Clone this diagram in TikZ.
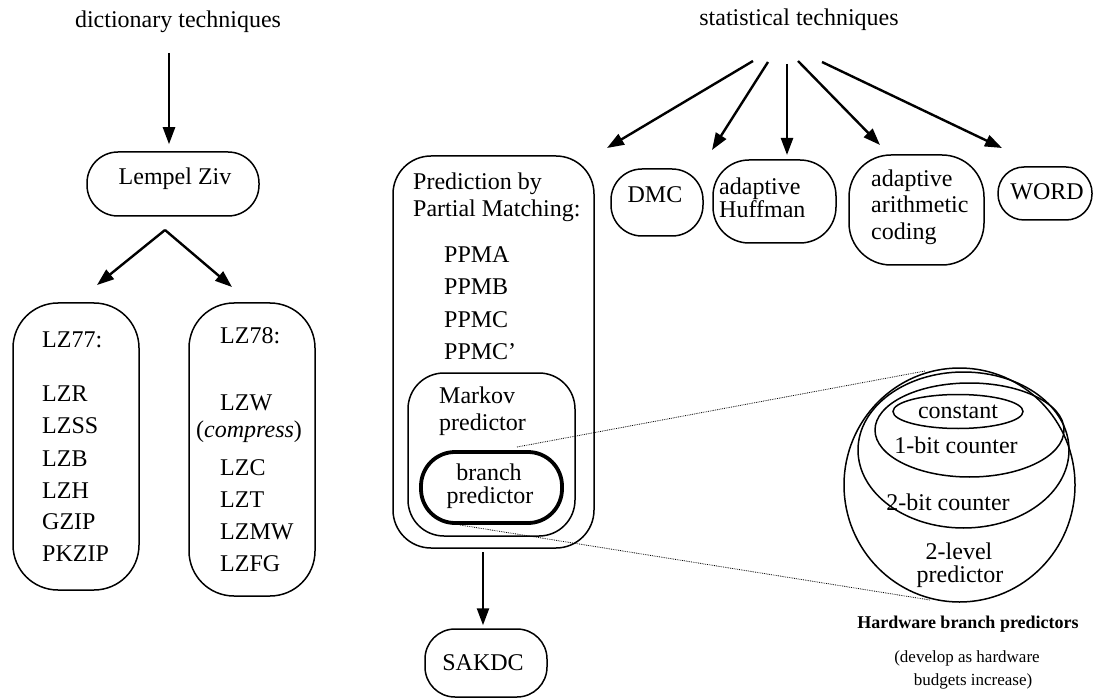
\documentclass[tikz,border=0pt]{standalone}
\usepackage{fontspec}
\setmainfont{Liberation Serif}
\usetikzlibrary{arrows.meta,shapes.geometric}
\begin{document}
\begin{tikzpicture}[x=1pt,y=-1pt,
  box/.style={draw,line width=1.5pt,rounded corners=#1,inner sep=0pt},
  box/.default=30pt,
  oval/.style={draw,line width=1.5pt,ellipse,inner sep=0pt},
  txt/.style={inner sep=0pt,font=\fontsize{24}{28}\selectfont},
  lt/.style={txt,anchor=base west},
  ct/.style={txt,anchor=base},
  small/.style={inner sep=0pt,anchor=base,font=\fontsize{17}{20}\selectfont},
  arr/.style={line width=2.4pt,-{Triangle[length=17pt,width=12pt]}},
  zoomline/.style={line width=0.8pt,densely dotted}]
\useasboundingbox (0,0) rectangle (1094,700);

% ---------- headings ----------
\node[txt] (dict) at (178,22) {dictionary techniques};
\node[txt] (stat) at (799,20) {statistical techniques};

% ---------- dictionary branch ----------
\node[box=31pt,minimum width=172pt,minimum height=64pt] (lz) at (173,184) {};
\node[ct] (lzt) at (175,185) {Lempel Ziv};

\node[box=45pt,minimum width=126pt,minimum height=287pt] (lz77) at (76,446.5) {};
\node[box=45pt,minimum width=126pt,minimum height=293pt] (lz78) at (252,449.5) {};

\node[lt] (a0) at (42,347) {LZ77:};
\node[lt] (a1) at (42,401) {LZR};
\node[lt] (a2) at (42,433) {LZSS};
\node[lt] (a3) at (42,466) {LZB};
\node[lt] (a4) at (42,498) {LZH};
\node[lt] (a5) at (42,529) {GZIP};
\node[lt] (a6) at (42,561) {PKZIP};

\node[lt] (b0) at (220,343) {LZ78:};
\node[lt] (b1) at (220,410) {LZW};
\node[lt] (b2) at (196,437) {(\textit{compress})};
\node[lt] (b3) at (220,475) {LZC};
\node[lt] (b4) at (220,507) {LZT};
\node[lt] (b5) at (220,539) {LZMW};
\node[lt] (b6) at (220,571) {LZFG};

\coordinate (d0) at (169,53);
\draw[arr] (d0) -- (d0 |- lz.north) [shorten >=7pt];
\coordinate (ap) at (165,230);
\coordinate (t77) at (97,285);
\coordinate (t78) at (232,287);
\draw[arr] (ap) -- (t77);
\draw[arr] (ap) -- (t78);

% ---------- statistical branch ----------
\node[box=38pt,minimum width=201pt,minimum height=392pt] (ppm) at (493.5,352) {};
\node[lt] (p0) at (413,190) {Prediction by};
\node[lt] (p1) at (413,217) {Partial Matching:};
\node[lt] (p2) at (444,263) {PPMA};
\node[lt] (p3) at (444,295) {PPMB};
\node[lt] (p4) at (444,327) {PPMC};
\node[lt] (p5) at (444,359) {PPMC'};

\node[box=36pt,minimum width=167pt,minimum height=163pt] (markov) at (491.5,454.5) {};
\node[lt] (m0) at (439,403) {Markov};
\node[lt] (m1) at (439,430) {predictor};

\node[draw,line width=3.8pt,rounded corners=34pt,inner sep=0pt,
      minimum width=141pt,minimum height=71pt] (branch) at (491.5,487.5) {};
\node[ct] (br0) at (489,480) {branch};
\node[ct] (br1) at (490,503) {predictor};

\node[box=30pt,minimum width=122pt,minimum height=68pt] (sakdc) at (486,663) {};
\node[ct] (sak) at (483,670) {SAKDC};
\coordinate (s0) at (483,552);
\draw[arr] (s0) -- (s0 |- sakdc.north) [shorten >=3pt];

\node[box=31pt,minimum width=92pt,minimum height=67pt] (dmc) at (657,202.5) {};
\node[ct] (dmct) at (655,203) {DMC};

\node[box=36pt,minimum width=123pt,minimum height=83pt] (huff) at (774.5,201.5) {};
\node[lt] (h0) at (719,195) {adaptive};
\node[lt] (h1) at (719,218) {Huffman};

\node[box=42pt,minimum width=135pt,minimum height=110pt] (arith) at (916.5,210) {};
\node[lt] (r0) at (871,187) {adaptive};
\node[lt] (r1) at (871,213) {arithmetic};
\node[lt] (r2) at (871,240) {coding};

\node[box=26pt,minimum width=94pt,minimum height=53pt] (word) at (1045,193.5) {};
\node[ct] (wordt) at (1047,200) {WORD};

\coordinate (st1) at (753,61);
\coordinate (st2) at (768,62);
\coordinate (st3) at (787,64);
\coordinate (st4) at (798,61);
\coordinate (st5) at (822,62);
\coordinate (e1) at (607,148);
\coordinate (e2) at (712,150);
\coordinate (e3) at (787,155);
\coordinate (e4) at (880,145);
\coordinate (e5) at (1002,148);
\draw[arr] (st1) -- (e1);
\draw[arr] (st2) -- (e2);
\draw[arr] (st3) -- (e3);
\draw[arr] (st4) -- (e4);
\draw[arr] (st5) -- (e5);

% ---------- hardware branch predictors ----------
\node[oval,minimum width=231pt,minimum height=234pt] (c4) at (959.5,485) {};
\node[oval,minimum width=211pt,minimum height=156pt] (c3) at (963.5,450) {};
\node[oval,minimum width=189pt,minimum height=94pt] (c2) at (969.5,430) {};
\node[oval,minimum width=130pt,minimum height=34pt] (c1) at (958,411.5) {};

\node[ct] (k1) at (958,418) {constant};
\node[ct] (k2) at (956,453) {1-bit counter};
\node[ct] (k3) at (948,510) {2-bit counter};
\node[ct] (k4) at (959,559) {2-level};
\node[ct] (k5) at (960,582) {predictor};

\node[inner sep=0pt,anchor=base,font=\bfseries\fontsize{18}{20}\selectfont] (hw) at (968,628) {Hardware branch predictors};
\node[small] (dv0) at (967,662) {(develop as hardware};
\node[small] (dv1) at (973,685) {budgets increase)};

% zoom lines from the branch predictor to the nested set
\coordinate (z1) at (517,447);
\coordinate (z2) at (460,525);
\coordinate (w1) at (925,371);
\coordinate (w2) at (930,600);
\draw[zoomline] (z1) -- (w1);
\draw[zoomline] (z2) -- (w2);
\end{tikzpicture}
\end{document}
